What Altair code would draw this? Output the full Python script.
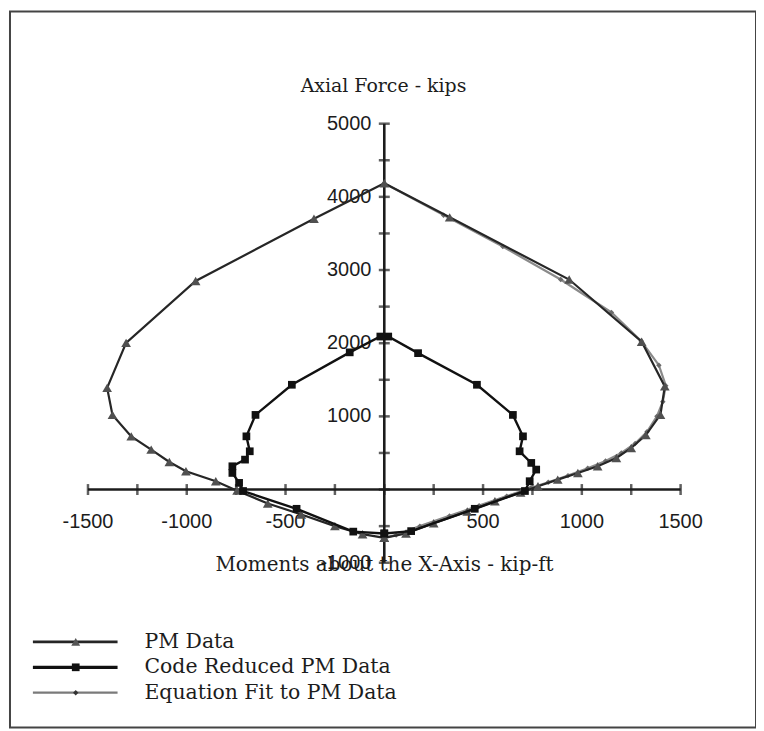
import altair as alt
import pandas as pd

# ---------------- data ----------------
series_names = ["PM Data", "Code Reduced PM Data", "Equation Fit to PM Data"]

pm_moment = [0, -110, -250, -420, -590, -745, -853, -1004, -1088, -1180, -1281, -1376,
             -1403, -1307, -955, -356, 0, 331, 936, 1303, 1420, 1398, 1324, 1250, 1175,
             1080, 980, 878, 778, 690, 560, 420, 250, 110, 0]
pm_axial = [-660, -610, -500, -340, -190, -15, 114, 250, 377, 545, 727, 1020,
            1390, 2005, 2850, 3700, 4185, 3720, 2870, 2020, 1410, 1023, 745, 568, 432,
            318, 227, 136, 45, -40, -160, -300, -460, -600, -660]

code_moment = [0, -157, -444, -715, -735, -769, -769, -705, -681, -698, -652, -468, -175,
               -20, 20, 171, 469, 651, 702, 685, 744, 769, 736, 712, 458, 136, 0]
code_axial = [-600, -575, -263, -20, 91, 227, 318, 409, 523, 727, 1020, 1432, 1875,
              2091, 2091, 1864, 1432, 1020, 727, 523, 364, 273, 114, -20, -263, -568, -600]

eq_moment = [0, 300, 600, 893, 1150, 1300, 1390, 1425, 1410, 1380, 1330, 1270, 1200,
             1120, 1030, 930, 830, 740, 620, 480, 330, 180, 60, 0]
eq_axial = [4185, 3750, 3320, 2870, 2420, 2030, 1700, 1420, 1200, 1000, 790, 630, 500,
            390, 290, 190, 100, 20, -90, -220, -360, -500, -620, -660]

x_ticks = [-1500, -1250, -1000, -750, -500, -250, 0, 250, 500, 750, 1000, 1250, 1500]
x_labels = [-1500, -1000, -500, 500, 1000, 1500]
y_ticks = [-1000, -500, 0, 500, 1000, 1500, 2000, 2500, 3000, 3500, 4000, 4500, 5000]
y_labels = [-1000, 1000, 2000, 3000, 4000, 5000]

title_text = "Axial Force - kips"
xtitle_text = "Moments about the X-Axis - kip-ft"

# ---------------- styling ----------------
SERIF = "DejaVu Serif"
SANS = "Liberation Sans"
INK = "#1c1c1c"

xs = alt.Scale(domain=[-1500, 1500], range=[78.3, 673.3], nice=False, zero=False)
ys = alt.Scale(domain=[-1000, 5000], range=[553.5, 112.7], nice=False, zero=False)
X = alt.X("M:Q", scale=xs, axis=None)
Y = alt.Y("P:Q", scale=ys, axis=None)


def frame(m, p):
    return pd.DataFrame({"M": m, "P": p, "i": list(range(len(m)))})


layers = []

# axes (crossing at the origin)
layers.append(alt.Chart(pd.DataFrame({"M": [x_ticks[0]], "M2": [x_ticks[-1]], "P": [0]}))
              .mark_rule(color=INK, strokeWidth=2.6)
              .encode(x=X, x2="M2:Q", y=Y))
layers.append(alt.Chart(pd.DataFrame({"M": [0], "P": [y_ticks[0]], "P2": [y_ticks[-1]]}))
              .mark_rule(color=INK, strokeWidth=2.6)
              .encode(x=X, y=Y, y2="P2:Q"))
layers.append(alt.Chart(pd.DataFrame({"M": x_ticks, "P": [0] * len(x_ticks)}))
              .mark_tick(orient="vertical", size=11, thickness=2.5, color=INK)
              .encode(x=X, y=Y))
layers.append(alt.Chart(pd.DataFrame({"M": [0] * len(y_ticks), "P": y_ticks}))
              .mark_tick(orient="horizontal", size=11, thickness=2.5, color=INK)
              .encode(x=X, y=Y))
layers.append(alt.Chart(pd.DataFrame({"M": x_labels, "P": [0] * len(x_labels),
                                      "t": [str(v) for v in x_labels]}))
              .mark_text(font=SANS, fontSize=20, color=INK, baseline="middle", dy=33)
              .encode(x=X, y=Y, text="t:N"))
layers.append(alt.Chart(pd.DataFrame({"M": [0] * len(y_labels), "P": y_labels,
                                      "t": [str(v) for v in y_labels]}))
              .mark_text(font=SANS, fontSize=20, color=INK, baseline="middle",
                         align="right", dx=-13)
              .encode(x=X, y=Y, text="t:N"))

# series
eq_df = frame(eq_moment, eq_axial)
pm_df = frame(pm_moment, pm_axial)
code_df = frame(code_moment, code_axial)

layers.append(alt.Chart(eq_df).mark_line(color="#8a8a8a", strokeWidth=2.2)
              .encode(x=X, y=Y, order="i:Q"))
layers.append(alt.Chart(eq_df).mark_point(shape="diamond", filled=True, size=30,
                                          color="#6a6a6a", opacity=1)
              .encode(x=X, y=Y))
layers.append(alt.Chart(pm_df).mark_line(color="#262626", strokeWidth=2.2)
              .encode(x=X, y=Y, order="i:Q"))
layers.append(alt.Chart(pm_df).mark_point(shape="triangle-up", filled=True, size=95,
                                          color="#505050", opacity=1)
              .encode(x=X, y=Y))
layers.append(alt.Chart(code_df).mark_line(color="#111111", strokeWidth=2.4)
              .encode(x=X, y=Y, order="i:Q"))
layers.append(alt.Chart(code_df).mark_point(shape="square", filled=True, size=60,
                                            color="#111111", opacity=1)
              .encode(x=X, y=Y))

# titles
dummy = pd.DataFrame({"a": [0]})
layers.append(alt.Chart(dummy).mark_text(text=title_text, font=SERIF, fontSize=19,
                                         color=INK, baseline="middle")
              .encode(x=alt.value(375), y=alt.value(75)))
layers.append(alt.Chart(dummy).mark_text(text=xtitle_text, font=SERIF, fontSize=20,
                                         color=INK, baseline="middle")
              .encode(x=alt.value(376), y=alt.value(556)))

# legend
leg_styles = [
    {"line": "#262626", "w": 2.6, "shape": "triangle-up", "size": 80, "fill": "#555555"},
    {"line": "#111111", "w": 3.2, "shape": "square", "size": 60, "fill": "#111111"},
    {"line": "#7a7a7a", "w": 2.2, "shape": "diamond", "size": 30, "fill": "#333333"},
]
for i, (name, st) in enumerate(zip(series_names, leg_styles)):
    yy = 633 + i * 25.5
    layers.append(alt.Chart(dummy).mark_rule(color=st["line"], strokeWidth=st["w"])
                  .encode(x=alt.value(23), x2=alt.value(108), y=alt.value(yy)))
    layers.append(alt.Chart(dummy).mark_point(shape=st["shape"], filled=True,
                                              size=st["size"], color=st["fill"], opacity=1)
                  .encode(x=alt.value(66), y=alt.value(yy)))
    layers.append(alt.Chart(dummy).mark_text(text=name, font=SERIF, fontSize=20.5,
                                             color=INK, align="left", baseline="middle")
                  .encode(x=alt.value(135), y=alt.value(yy)))

chart = (alt.layer(*layers)
         .properties(width=749, height=719,
                     padding={"left": 2, "top": 2, "right": 0, "bottom": 0},
                     autosize=alt.AutoSizeParams(type="none"),
                     background="white")
         .configure_view(stroke="#444444", strokeWidth=2))

chart.save("out.html", embed_options={"renderer": "svg", "actions": False})
